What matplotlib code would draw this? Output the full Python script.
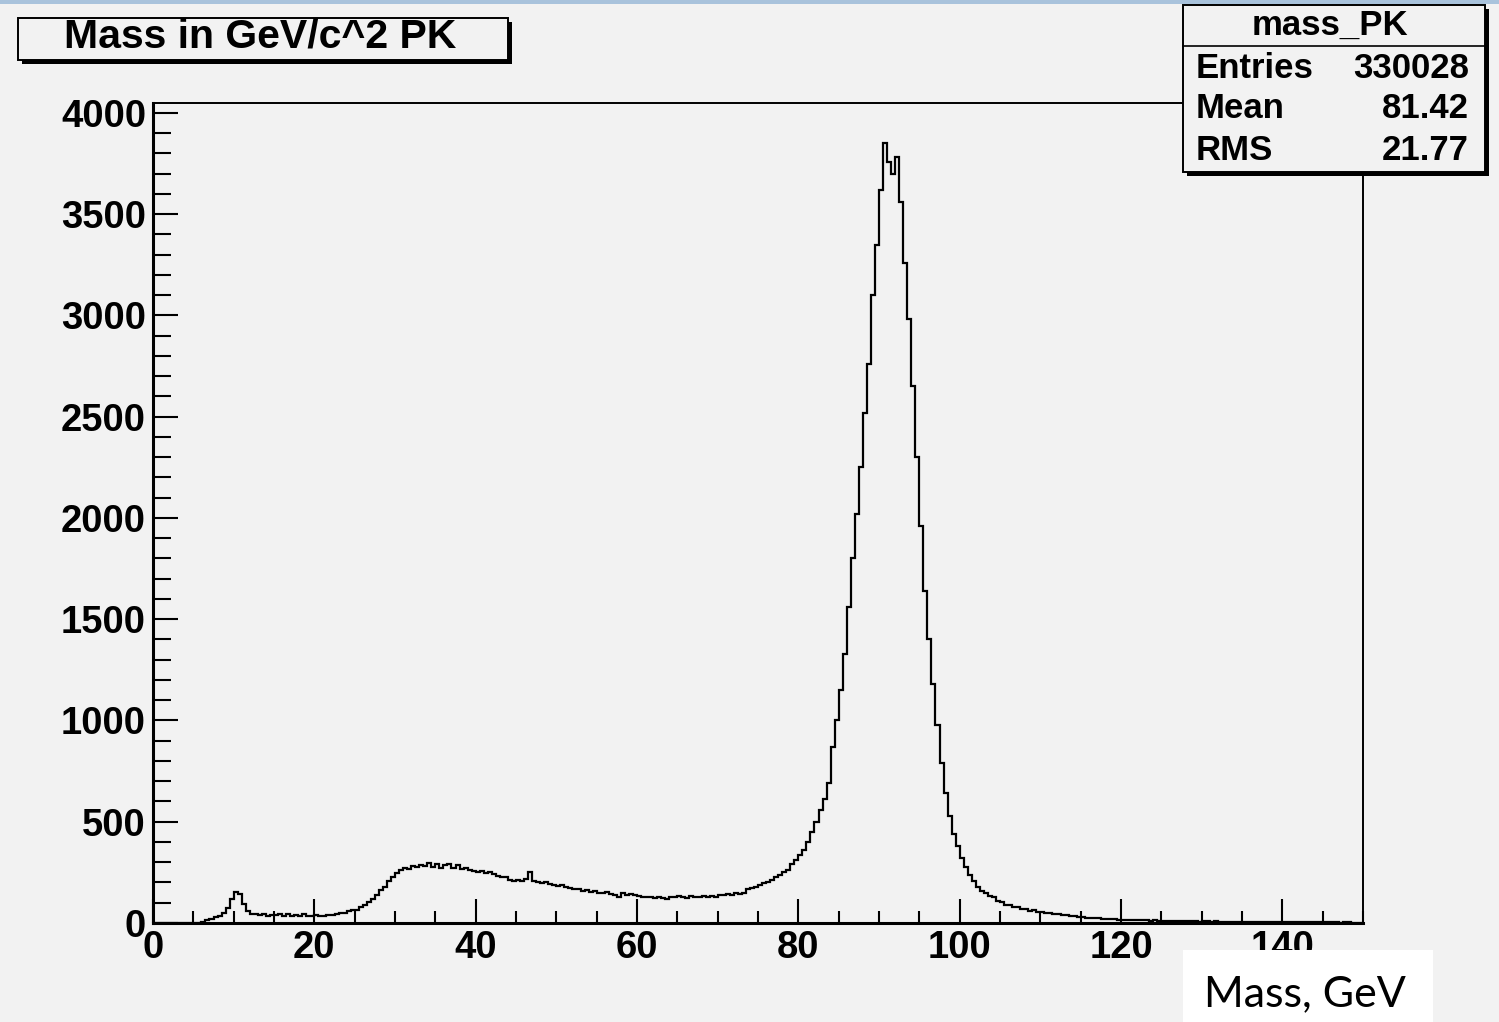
import numpy as np
import matplotlib
matplotlib.use("Agg")
import matplotlib.pyplot as plt
from matplotlib.patches import Rectangle
from matplotlib.ticker import MultipleLocator

# ---------------- data (0.5 GeV bins, 0..150 GeV) ----------------
bin_edges_start = 0.0
bin_width = 0.5
counts_0_30 = [
    0, 0, 0, 0, 0, 0, 0, 0, 0, 0,                 # 0-5
    0, 0, 6, 14, 22, 28, 34, 48, 72, 118,         # 5-10
    152, 144, 95, 58, 46, 42, 38, 44, 36, 40,     # 10-15
    38, 42, 36, 46, 34, 38, 33, 44, 36, 34,       # 15-20
    38, 33, 37, 41, 40, 45, 50, 48, 58, 62,       # 20-25
    66, 78, 88, 104, 118, 140, 162, 180, 205, 225,  # 25-30
]
counts_30_60 = [
    248, 262, 272, 268, 280, 276, 288, 282, 296, 278,  # 30-35
    290, 272, 284, 292, 270, 286, 268, 274, 262, 258,  # 35-40
    250, 256, 246, 252, 240, 232, 226, 228, 214, 208,  # 40-45
    212, 206, 216, 252, 206, 200, 198, 202, 192, 188,  # 45-50
    182, 186, 176, 172, 168, 166, 160, 162, 154, 156,  # 50-55
    150, 148, 152, 142, 140, 130, 146, 138, 144, 136,  # 55-60
]
counts_60_90 = [
    132, 128, 126, 130, 122, 128, 124, 120, 130, 126,  # 60-65
    132, 128, 124, 134, 130, 126, 132, 128, 134, 130,  # 65-70
    136, 140, 144, 140, 146, 142, 150, 166, 172, 180,  # 70-75
    186, 196, 204, 212, 226, 236, 250, 264, 290, 312,  # 75-80
    335, 360, 400, 450, 500, 560, 610, 690, 870, 1000,  # 80-85
    1150, 1330, 1560, 1800, 2020, 2250, 2520, 2760, 3100, 3350,  # 85-90
]
counts_90_120 = [
    3620, 3850, 3760, 3700, 3780, 3560, 3260, 2980, 2650, 2300,  # 90-95
    1960, 1640, 1400, 1180, 980, 790, 640, 530, 440, 380,      # 95-100
    320, 275, 235, 205, 180, 160, 148, 132, 128, 110,          # 100-105
    102, 90, 88, 78, 77, 69, 70, 60, 62, 55,                   # 105-110
    53, 48, 48, 43, 43, 38, 39, 34, 34, 30,                    # 110-115
    31, 27, 27, 24, 24, 21, 22, 19, 20, 17,                    # 115-120
]
counts_120_150 = [
    17, 15, 17, 14, 16, 13, 14, 12, 13, 11,  # 120-125
    12, 10, 11, 9, 10, 9, 10, 8, 9, 7,       # 125-130
    8, 8, 7, 8, 6, 7, 7, 6, 7, 5,            # 130-135
    6, 6, 5, 5, 6, 4, 5, 5, 4, 4,            # 135-140
    5, 4, 4, 4, 3, 4, 4, 3, 3, 3,            # 140-145
    3, 3, 3, 3, 2, 3, 3, 2, 2, 2,            # 145-150
]
counts = np.array(counts_0_30 + counts_30_60 + counts_60_90 + counts_90_120 + counts_120_150, dtype=float)
edges = bin_edges_start + bin_width * np.arange(len(counts) + 1)

x_ticks = [0, 20, 40, 60, 80, 100, 120, 140]
y_ticks = [0, 500, 1000, 1500, 2000, 2500, 3000, 3500, 4000]

title_text = "Mass in GeV/c^2 PK"
stats_name = "mass_PK"
stats_rows = [("Entries", "330028"), ("Mean", "81.42"), ("RMS", "21.77")]
axis_note = "Mass, GeV"

# ---------------- figure ----------------
W, H = 1499, 1022
BG = "#f2f2f2"
fig = plt.figure(figsize=(W / 100, H / 100), dpi=100, facecolor=BG)

def fx(x):
    return x / W

def fy(y):
    return 1 - y / H

L, R, T, B = 153, 1363, 103, 923
ax = fig.add_axes([fx(L), fy(B), (R - L) / W, (B - T) / H])
ax.set_facecolor(BG)
ax.stairs(counts, edges, color="black", linewidth=1.6)
ax.set_xlim(0, 150)
ax.set_ylim(0, 4049)

FAM = ["Liberation Sans", "DejaVu Sans"]
font_bold = {"family": FAM, "weight": "bold"}
ax.set_xticks(x_ticks)
ax.set_yticks(y_ticks)
ax.set_xticklabels([str(v) for v in x_ticks], fontdict=font_bold, fontsize=27.5)
ax.set_yticklabels([str(v) for v in y_ticks], fontdict=font_bold, fontsize=27.5)
ax.xaxis.set_minor_locator(MultipleLocator(5))
ax.yaxis.set_minor_locator(MultipleLocator(100))
ax.tick_params(axis="x", which="major", direction="in", length=17, width=1.5, pad=5, top=False)
ax.tick_params(axis="x", which="minor", direction="in", length=8.5, width=1.5, top=False)
ax.tick_params(axis="y", which="major", direction="in", length=18, width=1.5, pad=5, right=False)
ax.tick_params(axis="y", which="minor", direction="in", length=13, width=1.5, right=False)
for s in ["left", "bottom"]:
    ax.spines[s].set_linewidth(2.2)
for s in ["top", "right"]:
    ax.spines[s].set_linewidth(1.4)

# top slide band
fig.add_artist(Rectangle((0, fy(4)), 1, 4 / H, transform=fig.transFigure,
                         facecolor="#a9c3dc", edgecolor="none", zorder=0))

def shadow_box(x0, y0, x1, y1, off=4, z=10):
    fig.add_artist(Rectangle((fx(x0 + off), fy(y1 + off)), (x1 - x0) / W, (y1 - y0) / H,
                             transform=fig.transFigure, facecolor="black",
                             edgecolor="none", zorder=z))
    fig.add_artist(Rectangle((fx(x0), fy(y1)), (x1 - x0) / W, (y1 - y0) / H,
                             transform=fig.transFigure, facecolor=BG,
                             edgecolor="black", linewidth=1.4, zorder=z + 1))

# title box
shadow_box(18, 18, 508, 60)
fig.text(fx(260), fy(36), title_text, ha="center", va="center", fontsize=29.5,
         zorder=20, family=FAM, weight="bold")

# stats box
sx0, sy0, sx1, sy1 = 1183, 5, 1485, 172
shadow_box(sx0, sy0, sx1, sy1)
fig.add_artist(plt.Line2D([fx(sx0), fx(sx1)], [fy(46), fy(46)], transform=fig.transFigure,
                          color="black", linewidth=1.2, zorder=20))
fig.text(fx(1330), fy(25), stats_name, ha="center", va="center", fontsize=25,
         zorder=20, family=FAM, weight="bold")
row_y = [68, 108, 150]
for (lab, val), yy in zip(stats_rows, row_y):
    fig.text(fx(1196), fy(yy), lab, ha="left", va="center", fontsize=25,
             zorder=20, family=FAM, weight="bold")
    fig.text(fx(1469), fy(yy), val, ha="right", va="center", fontsize=25,
             zorder=20, family=FAM, weight="bold")

# white label box
fig.add_artist(Rectangle((fx(1183), 0), 250 / W, (H - 950) / H, transform=fig.transFigure,
                         facecolor="white", edgecolor="none", zorder=30))
fig.text(fx(1305), fy(994), axis_note, ha="center", va="center", fontsize=31,
         zorder=31, family=["Lato", "DejaVu Sans"])

fig.savefig("out.png", dpi=100, facecolor=BG)
